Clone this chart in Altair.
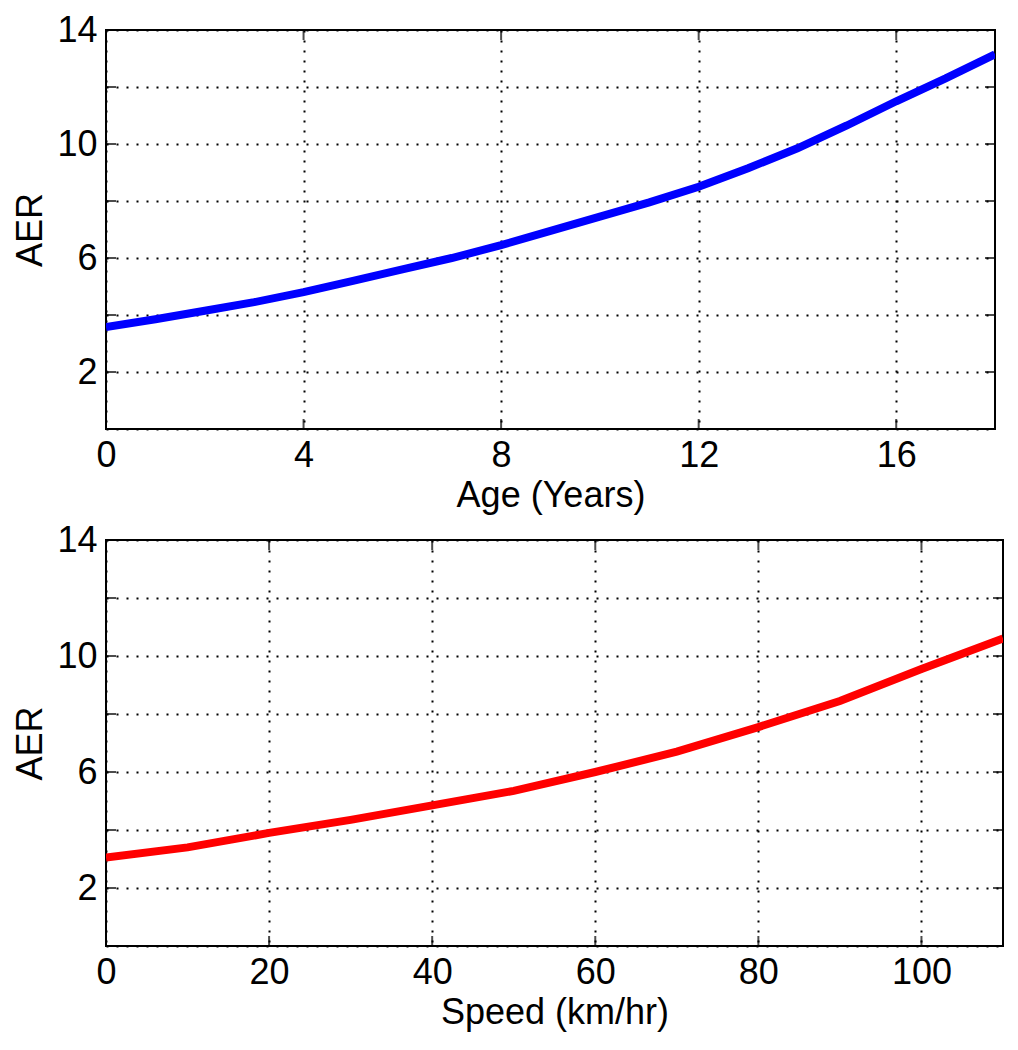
import altair as alt
import pandas as pd

# ---- data ----
age = [0, 1, 2, 3, 4, 5, 6, 7, 8, 9, 10, 11, 12, 13, 14, 15, 16, 17, 18]
aer_age = [3.58, 3.85, 4.15, 4.45, 4.8, 5.2, 5.6, 6.0, 6.45, 6.95, 7.45,
           7.95, 8.5, 9.15, 9.85, 10.65, 11.5, 12.3, 13.15]

speed = [0, 10, 20, 30, 40, 50, 60, 70, 80, 90, 100, 110]
aer_speed = [3.05, 3.4, 3.9, 4.35, 4.85, 5.35, 6.0, 6.7, 7.55, 8.45, 9.55, 10.6]

age_ticks = [0, 4, 8, 12, 16]
speed_ticks = [0, 20, 40, 60, 80, 100]
aer_ticks = [0, 2, 4, 6, 8, 10, 12, 14]

FONT = "Liberation Sans"
FS = 36

df_age = pd.DataFrame({"Age": age, "AER": aer_age})
df_speed = pd.DataFrame({"Speed": speed, "AER": aer_speed})


def panel(df, xfield, xtitle, xdomain, xticks, color, W, H):
    xscale = alt.Scale(domain=xdomain, nice=False, zero=False)
    yscale = alt.Scale(domain=[0, 14], nice=False)
    xaxis = alt.Axis(values=xticks, grid=True, gridDash=[2, 8], gridColor="black",
                     gridWidth=2, gridOpacity=1, ticks=False, domain=False,
                     labelFont=FONT, labelFontSize=FS, labelColor="black",
                     labelPadding=9, labelFlush=False, labelOverlap=False,
                     title=xtitle, titleFont=FONT, titleFontSize=FS,
                     titleFontWeight="normal", titleColor="black", titlePadding=5)
    yaxis = alt.Axis(values=aer_ticks, grid=True, gridDash=[2, 8], gridColor="black",
                     gridWidth=2, gridOpacity=1, ticks=False, domain=False,
                     labelFont=FONT, labelFontSize=FS, labelColor="black",
                     labelPadding=9, labelFlush=False, labelOverlap=False,
                     labelExpr="datum.value % 4 == 2 ? datum.label : ''",
                     title="AER", titleFont=FONT, titleFontSize=FS,
                     titleFontWeight="normal", titleColor="black", titlePadding=7)
    line = alt.Chart(df).mark_line(color=color, strokeWidth=8, clip=True).encode(
        x=alt.X(f"{xfield}:Q", scale=xscale, axis=xaxis),
        y=alt.Y("AER:Q", scale=yscale, axis=yaxis),
    )
    inner_x = [v for v in xticks if v != xdomain[0]]
    inner_y = [v for v in aer_ticks if v not in (0, 14)]
    dfx = pd.DataFrame({"v": inner_x})
    dfy = pd.DataFrame({"v": inner_y})
    tb = alt.Chart(dfx).mark_tick(color="black", thickness=2, size=10, orient="vertical").encode(
        x=alt.X("v:Q", scale=xscale), y=alt.value(H - 5))
    tt = alt.Chart(dfx).mark_tick(color="black", thickness=2, size=10, orient="vertical").encode(
        x=alt.X("v:Q", scale=xscale), y=alt.value(5))
    tl = alt.Chart(dfy).mark_tick(color="black", thickness=2, size=10, orient="horizontal").encode(
        y=alt.Y("v:Q", scale=yscale), x=alt.value(5))
    tr = alt.Chart(dfy).mark_tick(color="black", thickness=2, size=10, orient="horizontal").encode(
        y=alt.Y("v:Q", scale=yscale), x=alt.value(W - 5))
    return alt.layer(line, tb, tt, tl, tr).properties(width=W, height=H)


top = panel(df_age, "Age", "Age (Years)", [0, 18], age_ticks, "#0000ff", 889, 399)
bottom = panel(df_speed, "Speed", "Speed (km/hr)", [0, 110], speed_ticks, "#ff0000", 897, 406)

chart = alt.vconcat(top, bottom, spacing=111, bounds="flush").configure_view(
    stroke="black", strokeWidth=2
).properties(padding={"left": 3, "top": 3, "right": 5, "bottom": 5})

chart.save("out.html", embed_options={"renderer": "svg", "actions": False})
